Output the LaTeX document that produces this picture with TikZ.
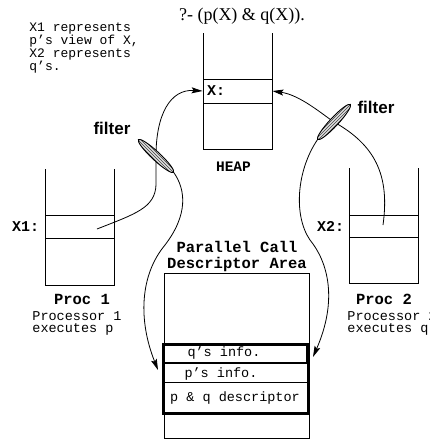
\documentclass[tikz,border=0pt]{standalone}
\usepackage{fontspec}
\setmainfont{Liberation Serif}
\setsansfont{Liberation Sans}
\setmonofont{Liberation Mono}
\usetikzlibrary{arrows.meta,shapes.geometric,patterns,backgrounds}

\tikzset{
  cell/.style={draw, inner sep=0pt, minimum width=69pt, minimum height=23pt},
  heavy/.style={draw, line width=2.2pt, inner sep=0pt},
  note/.style={font=\fontsize{13}{11.3}\selectfont\ttfamily, inner sep=0pt},
  txt/.style={font=\fontsize{13.5}{12}\selectfont\ttfamily, inner sep=0pt},
  title/.style={font=\fontsize{15.5}{16}\selectfont\ttfamily\bfseries, inner sep=0pt},
  fltlab/.style={font=\fontsize{17}{20}\selectfont\sffamily\bfseries, inner sep=0pt},
  filt/.style={draw, ellipse, inner sep=0pt, minimum width=48pt, minimum height=8.5pt,
    preaction={fill=gray!25}, pattern color=black!75},
  link/.style={line width=0.8pt, -{Stealth[length=11pt,width=6pt,inset=2pt]}},
}

\begin{document}
\begin{tikzpicture}[x=1pt, y=-1pt, line width=0.9pt]
\useasboundingbox (0,0) rectangle (430,440);

\node[font=\fontsize{18}{20}\selectfont, inner sep=0pt] (goal) at (242,16) {?- (p(X) \& q(X)).};
\node[note, anchor=north west, align=left] (remark) at (29,22.5)
  {X1 represents\\p’s view of X,\\X2 represents\\q’s.};

% heap
\draw (203,33) -- (203,149) -- (272,149) -- (272,33);
\node[cell, minimum height=24pt] (hx) at (237.5,91) {};
\node[title, font=\fontsize{15}{16}\selectfont\ttfamily\bfseries, anchor=west] (hxlab) at ([xshift=4pt]hx.west) {X:};
\node[title, font=\fontsize{14.5}{16}\selectfont\ttfamily\bfseries] (heaplab) at (233.5,167) {HEAP};

% processor 1
\draw (45,169) -- (45,285) -- (114,285) -- (114,169);
\node[cell] (x1) at (79.5,226.5) {};
\node[title, font=\fontsize{15}{16}\selectfont\ttfamily\bfseries, anchor=east] (x1lab) at ([xshift=-5pt]x1.west) {X1:};
\node[title] (proc1) at (82,299) {Proc 1};
\node[txt, anchor=north west, align=left] (proc1note) at (32,311.5) {Processor 1\\executes p};

% processor 2
\draw (349,168) -- (349,283) -- (418,283) -- (418,168);
\node[cell, minimum height=22pt] (x2) at (383.5,226) {};
\node[title, font=\fontsize{15}{16}\selectfont\ttfamily\bfseries, anchor=east] (x2lab) at ([xshift=-4pt]x2.west) {X2:};
\node[title] (proc2) at (384,299) {Proc 2};
\node[txt, anchor=north west, align=left] (proc2note) at (347,311.5) {Processor 2\\executes q};

% descriptor area
\node[title, anchor=north, align=center] (arealab) at (237,240.5) {Parallel Call\\Descriptor Area};
\node[cell, minimum width=145pt, minimum height=165pt] (area) at (236.5,355.5) {};
\node[heavy, minimum width=143pt, minimum height=18pt] (qinfo) at (235.5,354) {};
\node[cell, minimum width=144pt, minimum height=19pt] (pinfo) at (236,372.5) {};
\node[cell, minimum width=144pt, minimum height=31pt] (pqd) at (236,397.5) {};
\draw[line width=2.2pt] (qinfo.north west) rectangle (pqd.south east);
\node[txt] (qtxt) at (224,353) {q’s info.};
\node[txt] (ptxt) at (221,374) {p’s info.};
\node[txt] (pqtxt) at (235,398) {p \& q descriptor};

% filters
\node[filt, pattern=north west lines, rotate=-43] (f1) at (156,156) {};
\node[filt, pattern=north east lines, rotate=47] (f2) at (334,122) {};
\node[fltlab] (f1lab) at (112,128) {filter};
\node[fltlab] (f2lab) at (376,107) {filter};

\coordinate (x1in) at (97,229);
\coordinate (x2in) at (383,225);
\coordinate (pin) at (158,370);
\coordinate (qin) at (313,357);

\begin{scope}[on background layer]
\draw[link] (x1in) .. controls (135,214) and (155,208) .. (156,185) -- (f1.center)
  .. controls (156,115) and (170,89) .. (hx.west);
\draw[link] (f1.east) .. controls (186,190) and (188,215) .. (165,245)
  .. controls (140,275) and (138,320) .. (pin);
\draw[link] (x2in) .. controls (390,175) and (375,145) .. (f2.center)
  .. controls (322,114) and (300,95) .. (hx.east);
\draw[link] (f2.west) .. controls (297,170) and (293,215) .. (310,240)
  .. controls (328,262) and (338,300) .. (qin);
\end{scope}
\end{tikzpicture}
\end{document}
